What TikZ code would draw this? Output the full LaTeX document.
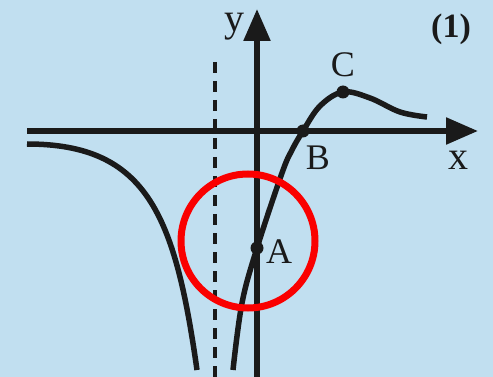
\documentclass[tikz,border=0pt]{standalone}
\usepackage{fontspec}
\setmainfont{Liberation Serif}
\usetikzlibrary{arrows.meta}
\definecolor{bgblue}{RGB}{193,223,240}
\definecolor{ink}{RGB}{26,26,26}
\definecolor{ringred}{RGB}{250,0,0}
\begin{document}
\begin{tikzpicture}[x=1pt,y=-1pt,
  axis/.style={draw=ink,line width=5.5pt,-{Triangle[length=32pt,width=26pt]}},
  curve/.style={draw=ink,line width=5.5pt},
  asym/.style={draw=ink,line width=3.8pt,dash pattern=on 11pt off 8pt},
  dot/.style={circle,fill=ink,inner sep=0pt,minimum size=13pt},
  lbl/.style={font=\fontsize{36}{36}\selectfont,text=ink,inner sep=0pt}]
\fill[bgblue] (0,0) rectangle (493,377);
\useasboundingbox (0,0) rectangle (493,377);
% asymptote
\coordinate (dtop) at (215,62);
\coordinate (dbot) at (215,377);
\draw[asym] (dtop) -- (dbot);
% axes
\coordinate (xs) at (27,131);
\coordinate (xe) at (478,131);
\coordinate (ys) at (257,377);
\coordinate (ye) at (257,9);
\draw[axis] (xs) -- (xe);
\draw[axis] (ys) -- (ye);
% left branch
\coordinate (l0) at (27,144);
\coordinate (l3) at (197,370);
\draw[curve] (l0) .. controls (147,144) and (175,215) .. (l3);
% right branch
\draw[curve] plot[smooth,tension=0.6] coordinates {(233,370) (242,303) (257,248) (282,173) (292,150) (303,131) (320,106) (343,92) (370,98) (400,112) (427,117)};
% red ring
\draw[ringred,line width=7pt] (248,241) circle[radius=67];
% points
\node[dot] (A) at (257,248) {};
\node[dot] (B) at (303,131) {};
\node[dot] (C) at (343,92) {};
% labels
\node[lbl] (la) at (279,252) {A};
\node[lbl] (lb) at (318,158) {B};
\node[lbl] (lc) at (343,65) {C};
\node[lbl,font=\fontsize{40}{40}\selectfont] (lx) at (458,160) {x};
\node[lbl,font=\fontsize{40}{40}\selectfont] (ly) at (234,27) {y};
\node[lbl,font=\bfseries\fontsize{34}{34}\selectfont] (n1) at (451,29) {(1)};
\end{tikzpicture}
\end{document}
